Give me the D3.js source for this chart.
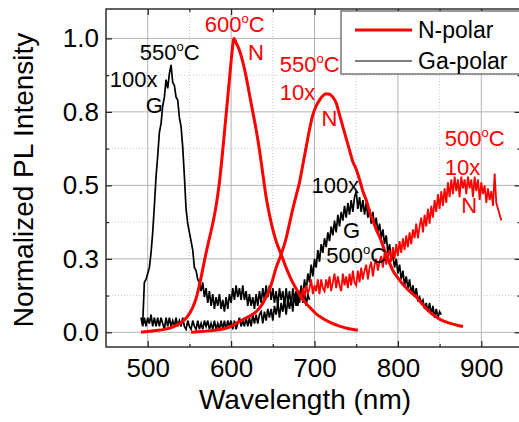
<!DOCTYPE html>
<html>
<head>
<meta charset="utf-8">
<script src="https://cdn.jsdelivr.net/npm/d3@7"></script>
<style>
  body { margin: 0; background: #fff; }
  svg { display: block; font-family: "Liberation Sans", Arial, sans-serif; }
</style>
</head>
<body>
<div id="chart"></div>
<script>
// axis ticks
const xMajorTicks = [500, 600, 700, 800, 900];
const xMinorTicks = [550, 650, 750, 850];
const yMajorTicks = [0, 0.25, 0.5, 0.75, 1.0];
const yTickLabels = ["0.0", "0.3", "0.5", "0.8", "1.0"];
const yMinorTicks = [0.125, 0.375, 0.625, 0.875];

// N-polar 600C (smooth) [wavelength, intensity]
const nPolar600 = [
  [492, 0], [500, 0.003], [510, 0.006], [520, 0.01], [530, 0.018], [540, 0.033],
  [548, 0.055], [554, 0.085], [558, 0.115], [562, 0.16], [566, 0.215], [570, 0.27],
  [574, 0.32], [578, 0.37], [582, 0.43], [586, 0.51], [590, 0.62], [594, 0.74],
  [598, 0.86], [601, 0.95], [603.5, 1.0], [606, 0.985], [610, 0.96], [614, 0.92],
  [618, 0.87], [622, 0.81], [626, 0.75], [630, 0.69], [634, 0.62], [638, 0.54],
  [642, 0.46], [646, 0.4], [650, 0.35], [654, 0.31], [660, 0.265], [666, 0.22],
  [672, 0.18], [678, 0.148], [684, 0.12], [690, 0.098], [696, 0.08], [702, 0.063],
  [710, 0.047], [720, 0.032], [730, 0.021], [740, 0.013], [752, 0.007]
];

// N-polar 550C x10 (smooth)
const nPolar550 = [
  [552, 0], [560, 0.002], [570, 0.004], [580, 0.007], [590, 0.011], [600, 0.02],
  [610, 0.037], [620, 0.052], [630, 0.07], [636, 0.09], [642, 0.12], [646, 0.145],
  [650, 0.18], [654, 0.22], [660, 0.265], [666, 0.32], [670, 0.37], [674, 0.42],
  [678, 0.465], [682, 0.51], [686, 0.57], [690, 0.63], [694, 0.69], [698, 0.74],
  [702, 0.77], [706, 0.79], [710, 0.805], [714, 0.812], [718, 0.81], [722, 0.8],
  [726, 0.78], [730, 0.74], [734, 0.7], [738, 0.66], [742, 0.62], [746, 0.58],
  [750, 0.555], [754, 0.52], [758, 0.48], [762, 0.45], [766, 0.41], [770, 0.38],
  [774, 0.35], [778, 0.325], [782, 0.295], [786, 0.265], [790, 0.236], [794, 0.21],
  [800, 0.185], [806, 0.163], [814, 0.14], [822, 0.12], [828, 0.1], [834, 0.08],
  [842, 0.06], [850, 0.045], [860, 0.033], [870, 0.025], [878, 0.02]
];

// N-polar 500C x10 (noisy), sampled every 2 nm from 682 nm
const nPolar500Start = 682;
const nPolar500 = [
  0.13, 0.11, 0.15, 0.12, 0.16, 0.13, 0.15, 0.18, 0.13, 0.16,
  0.14, 0.18, 0.13, 0.18, 0.15, 0.14, 0.18, 0.15, 0.19, 0.14,
  0.17, 0.2, 0.15, 0.19, 0.16, 0.14, 0.2, 0.16, 0.19, 0.15,
  0.2, 0.16, 0.21, 0.17, 0.16, 0.21, 0.17, 0.22, 0.18, 0.21,
  0.23, 0.18, 0.22, 0.24, 0.19, 0.23, 0.25, 0.21, 0.24, 0.26,
  0.22, 0.27, 0.23, 0.26, 0.28, 0.24, 0.29, 0.25, 0.3, 0.26,
  0.31, 0.27, 0.32, 0.28, 0.33, 0.29, 0.34, 0.3, 0.35, 0.32,
  0.37, 0.32, 0.36, 0.39, 0.34, 0.4, 0.36, 0.42, 0.37, 0.43,
  0.39, 0.45, 0.41, 0.47, 0.42, 0.48, 0.43, 0.49, 0.44, 0.51,
  0.46, 0.52, 0.47, 0.53, 0.48, 0.52, 0.46, 0.53, 0.49, 0.52,
  0.47, 0.53, 0.49, 0.52, 0.46, 0.53, 0.48, 0.52, 0.45, 0.51,
  0.47, 0.5, 0.44, 0.49, 0.45, 0.48, 0.43, 0.54, 0.44, 0.42,
  0.4, 0.38
];

// Ga-polar 550C x100 (noisy), every 2 nm from 494 nm
const gaPolar550Start = 494;
const gaPolar550 = [
  0.03, 0.17, 0.18, 0.2, 0.22, 0.27, 0.34, 0.43, 0.53, 0.6,
  0.68, 0.71, 0.77, 0.8, 0.86, 0.83, 0.88, 0.91, 0.85, 0.84,
  0.8, 0.79, 0.73, 0.7, 0.63, 0.53, 0.42, 0.37, 0.34, 0.31,
  0.28, 0.22, 0.21, 0.18, 0.17, 0.14, 0.17, 0.12, 0.15, 0.1,
  0.14, 0.09, 0.13, 0.08, 0.12, 0.09, 0.13, 0.08, 0.11, 0.07,
  0.12, 0.08, 0.13, 0.1, 0.15, 0.11, 0.16, 0.12, 0.15, 0.11,
  0.16, 0.11, 0.14, 0.09, 0.13, 0.09, 0.12, 0.08, 0.13, 0.09,
  0.14, 0.1, 0.15, 0.11, 0.16, 0.12, 0.16, 0.11, 0.15, 0.1,
  0.14, 0.09, 0.15, 0.11, 0.14, 0.09, 0.15, 0.1, 0.14, 0.09,
  0.15, 0.11, 0.14, 0.09, 0.13, 0.15, 0.1, 0.14, 0.09, 0.13,
  0.11
];

// Ga-polar 500C x100 (noisy), every 2 nm from 492 nm
const gaPolar500Start = 492;
const gaPolar500 = [
  0.05, 0.02, 0.05, 0.02, 0.05, 0.03, 0.06, 0.02, 0.05, 0.02,
  0.05, 0.02, 0.05, 0.03, 0.01, 0.05, 0.02, 0.05, 0.02, 0.04,
  0.02, 0.05, 0.02, 0.04, 0.02, 0.05, 0.02, 0.01, 0.04, 0.02,
  0.01, 0.04, 0.02, 0.01, 0.04, 0.01, 0.03, 0.01, 0.04, 0.02,
  0.04, 0.01, 0.03, 0.01, 0.04, 0.01, 0.03, 0.01, 0.04, 0.01,
  0.04, 0.01, 0.04, 0.02, 0.04, 0.01, 0.04, 0.01, 0.03, 0.05,
  0.02, 0.04, 0.02, 0.05, 0.02, 0.05, 0.02, 0.06, 0.03, 0.06,
  0.03, 0.06, 0.07, 0.03, 0.07, 0.04, 0.08, 0.05, 0.08, 0.04,
  0.09, 0.06, 0.1, 0.05, 0.1, 0.07, 0.11, 0.06, 0.11, 0.08,
  0.12, 0.07, 0.13, 0.09, 0.14, 0.1, 0.16, 0.12, 0.18, 0.14,
  0.2, 0.17, 0.23, 0.19, 0.25, 0.22, 0.28, 0.24, 0.3, 0.27,
  0.32, 0.29, 0.34, 0.31, 0.36, 0.33, 0.38, 0.34, 0.4, 0.36,
  0.41, 0.38, 0.43, 0.39, 0.44, 0.4, 0.45, 0.41, 0.46, 0.48,
  0.42, 0.46, 0.41, 0.45, 0.4, 0.44, 0.39, 0.42, 0.37, 0.41,
  0.36, 0.39, 0.34, 0.37, 0.32, 0.35, 0.3, 0.33, 0.27, 0.3,
  0.25, 0.26, 0.22, 0.25, 0.2, 0.23, 0.18, 0.21, 0.16, 0.19,
  0.15, 0.18, 0.13, 0.16, 0.12, 0.15, 0.11, 0.12, 0.1, 0.11,
  0.08, 0.1, 0.07, 0.1, 0.06, 0.09, 0.05, 0.08, 0.05, 0.07,
  0.06
];
const noisyStep = 2;

// peak labels: [text, superscript, tail, wavelength, intensity, color]
const annotations = [
  ["600", "o", "C", 568.4, 1.022, "red"],
  ["N", "", "", 620.3, 0.928, "red"],
  ["550", "o", "C", 490.4, 0.927, "black"],
  ["100x", "", "", 454.6, 0.836, "black"],
  ["G", "", "", 497.6, 0.746, "black"],
  ["550", "o", "C", 658.3, 0.887, "red"],
  ["10x", "", "", 658.3, 0.79, "red"],
  ["N", "", "", 708.3, 0.702, "red"],
  ["500", "o", "C", 856.1, 0.634, "red"],
  ["10x", "", "", 856.1, 0.535, "red"],
  ["N", "", "", 876.1, 0.406, "red"],
  ["100x", "", "", 696.3, 0.475, "black"],
  ["G", "", "", 734.2, 0.322, "black"],
  ["500", "o", "C", 714.2, 0.235, "black"]
];

const legendItems = ["N-polar", "Ga-polar"];

const width = 519, height = 422;
const plotLeft = 106, plotRight = 520.5, plotTop = 9, plotBottom = 347;

const svg = d3.select("#chart").append("svg")
  .attr("width", width)
  .attr("height", height);

svg.append("rect").attr("width", width).attr("height", height).attr("fill", "#fff");

const x = d3.scaleLinear().domain([450, 947]).range([plotLeft, plotRight]);
const y = d3.scaleLinear().domain([-0.05, 1.1]).range([plotBottom, plotTop]);

// grid
const grid = svg.append("g");
grid.selectAll(".vminor").data(xMinorTicks).enter().append("line")
  .attr("x1", d => x(d)).attr("x2", d => x(d)).attr("y1", plotTop).attr("y2", plotBottom)
  .attr("stroke", "#c8c8c8").attr("stroke-width", 1).attr("stroke-dasharray", "1,2");
grid.selectAll(".hminor").data(yMinorTicks).enter().append("line")
  .attr("x1", plotLeft).attr("x2", plotRight).attr("y1", d => y(d)).attr("y2", d => y(d))
  .attr("stroke", "#c8c8c8").attr("stroke-width", 1).attr("stroke-dasharray", "1,2");
grid.selectAll(".vmajor").data(xMajorTicks).enter().append("line")
  .attr("x1", d => x(d)).attr("x2", d => x(d)).attr("y1", plotTop).attr("y2", plotBottom)
  .attr("stroke", "#b4b4b4").attr("stroke-width", 1);
grid.selectAll(".hmajor").data(yMajorTicks).enter().append("line")
  .attr("x1", plotLeft).attr("x2", plotRight).attr("y1", d => y(d)).attr("y2", d => y(d))
  .attr("stroke", "#b4b4b4").attr("stroke-width", 1);

// curves
const line = d3.line().x(d => x(d[0])).y(d => y(d[1]));
const smooth = d3.line().x(d => x(d[0])).y(d => y(d[1])).curve(d3.curveMonotoneX);

function sampled(start, values) {
  return values.map(function(v, i) { return [start + i * noisyStep, v]; });
}

const plot = svg.append("g");
plot.append("path").datum(sampled(gaPolar500Start, gaPolar500)).attr("d", line)
  .attr("fill", "none").attr("stroke", "#000").attr("stroke-width", 1.7);
plot.append("path").datum(sampled(gaPolar550Start, gaPolar550)).attr("d", line)
  .attr("fill", "none").attr("stroke", "#000").attr("stroke-width", 1.7);
plot.append("path").datum(sampled(nPolar500Start, nPolar500)).attr("d", line)
  .attr("fill", "none").attr("stroke", "#ff0000").attr("stroke-width", 1.8);
plot.append("path").datum(nPolar600).attr("d", smooth)
  .attr("fill", "none").attr("stroke", "#ff0000").attr("stroke-width", 3);
plot.append("path").datum(nPolar550).attr("d", smooth)
  .attr("fill", "none").attr("stroke", "#ff0000").attr("stroke-width", 3);

// axes, ticks pointing inward
const axisColor = "#222";
function styleAxis(g) {
  g.select(".domain").remove();
  g.selectAll("line").attr("stroke", axisColor).attr("stroke-width", 1.2);
  g.selectAll("text").attr("fill", "#000").style("font-size", "26px")
    .style("font-family", "'Liberation Sans', Arial, sans-serif");
}

svg.append("g").attr("transform", "translate(0," + plotBottom + ")")
  .call(d3.axisBottom(x).tickValues(xMajorTicks).tickSizeInner(-6).tickSizeOuter(0).tickPadding(12))
  .call(styleAxis);
svg.append("g").attr("transform", "translate(0," + plotBottom + ")")
  .call(d3.axisBottom(x).tickValues(xMinorTicks).tickSizeInner(-3).tickSizeOuter(0).tickFormat(""))
  .call(styleAxis);
svg.append("g").attr("transform", "translate(0," + plotTop + ")")
  .call(d3.axisTop(x).tickValues(xMajorTicks).tickSizeInner(-6).tickSizeOuter(0).tickFormat(""))
  .call(styleAxis);
svg.append("g").attr("transform", "translate(0," + plotTop + ")")
  .call(d3.axisTop(x).tickValues(xMinorTicks).tickSizeInner(-3).tickSizeOuter(0).tickFormat(""))
  .call(styleAxis);

svg.append("g").attr("transform", "translate(" + plotLeft + ",0)")
  .call(d3.axisLeft(y).tickValues(yMajorTicks).tickSizeInner(-6).tickSizeOuter(0).tickPadding(7)
    .tickFormat(function(d, i) { return yTickLabels[i]; }))
  .call(styleAxis);
svg.append("g").attr("transform", "translate(" + plotLeft + ",0)")
  .call(d3.axisLeft(y).tickValues(yMinorTicks).tickSizeInner(-3).tickSizeOuter(0).tickFormat(""))
  .call(styleAxis);
svg.append("g").attr("transform", "translate(" + plotRight + ",0)")
  .call(d3.axisRight(y).tickValues(yMajorTicks).tickSizeInner(-6).tickSizeOuter(0).tickFormat(""))
  .call(styleAxis);
svg.append("g").attr("transform", "translate(" + plotRight + ",0)")
  .call(d3.axisRight(y).tickValues(yMinorTicks).tickSizeInner(-3).tickSizeOuter(0).tickFormat(""))
  .call(styleAxis);

// frame
svg.append("rect")
  .attr("x", plotLeft).attr("y", plotTop).attr("width", plotRight - plotLeft).attr("height", plotBottom - plotTop)
  .attr("fill", "none").attr("stroke", axisColor).attr("stroke-width", 1.4);

// axis titles
svg.append("text")
  .attr("x", 305).attr("y", 409)
  .attr("text-anchor", "middle")
  .style("font-size", "28px")
  .text("Wavelength (nm)");

svg.append("text")
  .attr("transform", "translate(33,180) rotate(-90)")
  .attr("text-anchor", "middle")
  .style("font-size", "28px")
  .text("Normalized PL Intensity");

// annotations
const labels = svg.append("g").style("font-size", "22px");
annotations.forEach(function(a) {
  const t = labels.append("text")
    .attr("x", x(a[3])).attr("y", y(a[4]))
    .attr("fill", a[5] === "red" ? "#ff0000" : "#000");
  t.append("tspan").text(a[0]);
  if (a[1]) {
    t.append("tspan").attr("dy", -9).style("font-size", "13px").text(a[1]);
    t.append("tspan").attr("dy", 9).text(a[2]);
  }
});

// legend
const legend = svg.append("g");
legend.append("rect")
  .attr("x", 341).attr("y", 11).attr("width", 185).attr("height", 63)
  .attr("fill", "#fff").attr("stroke", "#333").attr("stroke-width", 1);
legend.selectAll(".legline").data(legendItems).enter().append("line")
  .attr("x1", 355).attr("x2", 412)
  .attr("y1", function(d, i) { return 30 + i * 31; })
  .attr("y2", function(d, i) { return 30 + i * 31; })
  .attr("stroke", function(d, i) { return i === 0 ? "#ff0000" : "#000"; })
  .attr("stroke-width", function(d, i) { return i === 0 ? 3 : 1.2; });
legend.selectAll(".legtext").data(legendItems).enter().append("text")
  .attr("x", 418)
  .attr("y", function(d, i) { return 38 + i * 30.5; })
  .style("font-size", "23px")
  .text(function(d) { return d; });
</script>
</body>
</html>
